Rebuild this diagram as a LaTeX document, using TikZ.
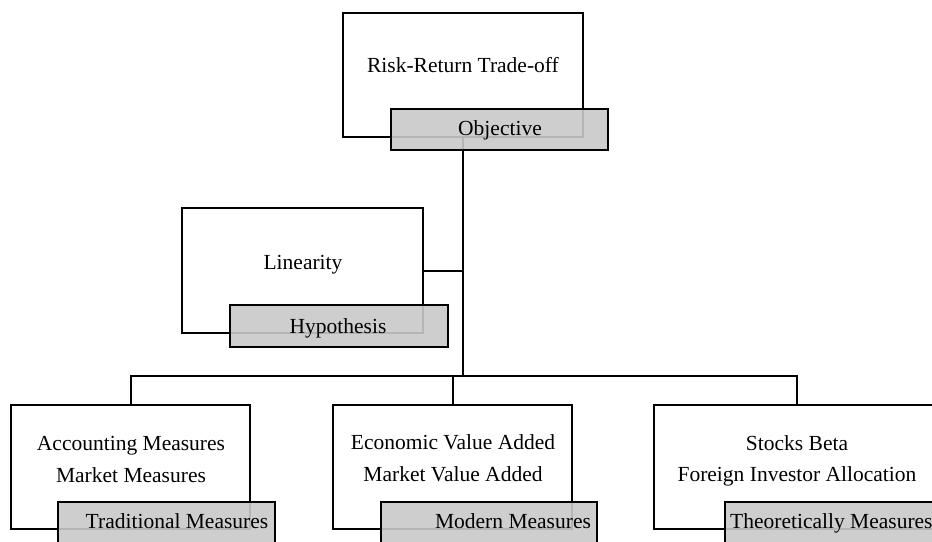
\documentclass[tikz,border=0pt]{standalone}
\usepackage{fontspec}
\setmainfont{Liberation Serif}
\definecolor{lgray}{RGB}{201,201,201}
\begin{document}
\begin{tikzpicture}[x=1pt,y=-1pt,
  wbox/.style={draw, fill=white, line width=2pt, inner sep=0pt, outer sep=0pt, anchor=north west},
  gbox/.style={draw, fill=lgray, fill opacity=0.9, draw opacity=1, line width=2pt, inner sep=0pt, outer sep=0pt, anchor=north west},
  conn/.style={draw, line width=2pt},
  txt/.style={font=\fontsize{21.5}{26}\selectfont, inner sep=0pt, anchor=base}]
\useasboundingbox (0,0) rectangle (932,541);
\clip (0,0) rectangle (932,541);
% white boxes
\node[wbox, minimum width=240pt, minimum height=124pt] (rt) at (343,13) {};
\node[wbox, minimum width=241pt, minimum height=125pt] (lin) at (182,208) {};
\node[wbox, minimum width=239pt, minimum height=124pt] (acc) at (11,405) {};
\node[wbox, minimum width=239pt, minimum height=124pt] (eva) at (333,405) {};
\node[wbox, minimum width=286pt, minimum height=124pt] (sb) at (654,405) {};
% connectors
\coordinate (bus) at (463,376);
\draw[conn] (rt.south) -- (bus);
\draw[conn] (lin.east) -- (lin.east -| bus);
\draw[conn] (acc.north) -- (acc.north |- bus) -- (sb.north |- bus) -- (sb.north);
\draw[conn] (eva.north) -- (eva.north |- bus);
% gray label boxes
\node[gbox, minimum width=217pt, minimum height=41pt] (obj) at (391,109) {};
\node[gbox, minimum width=218pt, minimum height=42pt] (hyp) at (230,305) {};
\node[gbox, minimum width=217pt, minimum height=42pt] (trad) at (58,502) {};
\node[gbox, minimum width=216pt, minimum height=42pt] (mod) at (381,502) {};
\node[gbox, minimum width=235pt, minimum height=42pt] (theo) at (725,502) {};
% texts
\node[txt] (trt) at (463,72) {Risk-Return Trade-off};
\node[txt] (tobj) at (500,135) {Objective};
\node[txt] (tlin) at (303,269) {Linearity};
\node[txt] (thyp) at (338,333) {Hypothesis};
\node[txt] (tacc1) at (131,450) {Accounting Measures};
\node[txt] (tacc2) at (131,482) {Market Measures};
\node[txt] (ttrad) at (177,528) {Traditional Measures};
\node[txt] (teva1) at (453,449) {Economic Value Added};
\node[txt] (teva2) at (453,481) {Market Value Added};
\node[txt] (tmod) at (513,528) {Modern Measures};
\node[txt] (tsb1) at (797,450) {Stocks Beta};
\node[txt] (tsb2) at (797,481) {Foreign Investor Allocation};
\node[txt, anchor=base west] (ttheo) at (730,528) {Theoretically Measures};
\end{tikzpicture}
\end{document}
